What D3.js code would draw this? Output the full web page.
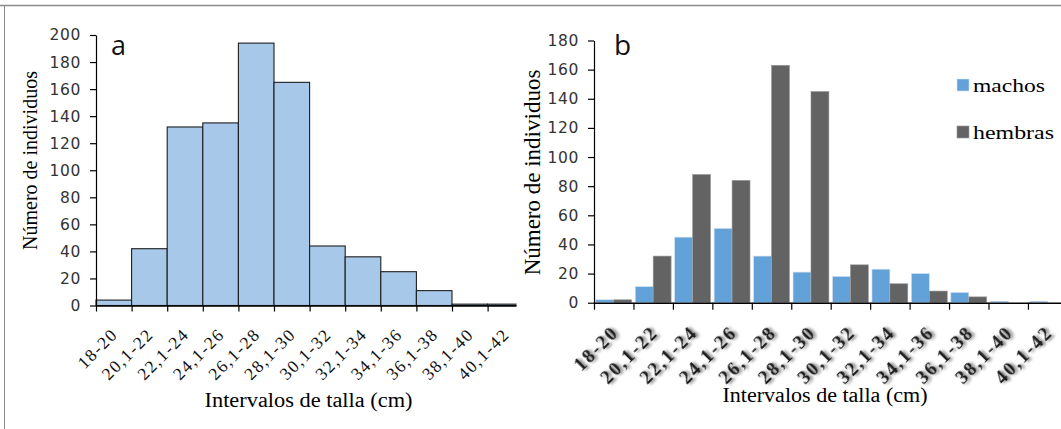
<!DOCTYPE html>
<html>
<head>
<meta charset="utf-8">
<script src="https://cdn.jsdelivr.net/npm/d3@7"></script>
<style>
  html, body { margin: 0; padding: 0; background: #fff; }
  svg { display: block; }
</style>
</head>
<body>
<script>
// ---------------- DATA ----------------
const categories = ["18-20","20,1-22","22,1-24","24,1-26","26,1-28","28,1-30","30,1-32","32,1-34","34,1-36","36,1-38","38,1-40","40,1-42"];
const totalCounts = [4, 42, 132, 135, 194, 165, 44, 36, 25, 11, 1, 1];
const machos  = [2, 11, 45, 51, 32, 21, 18, 23, 20, 7, 1, 1];
const hembras = [2, 32, 88, 84, 163, 145, 26, 13, 8, 4, 0, 0];
const seriesNames = ["machos", "hembras"];
const yTicksA = [0, 20, 40, 60, 80, 100, 120, 140, 160, 180, 200];
const yTicksB = [0, 20, 40, 60, 80, 100, 120, 140, 160, 180];
const panelLabels = ["a", "b"];
const yTitle = "Número de individuos";
const xTitle = "Intervalos de talla (cm)";

// ---------------- SETUP ----------------
const W = 1061, H = 429;
const svg = d3.select("body").append("svg").attr("width", W).attr("height", H);
const defs = svg.append("defs");

const sh = defs.append("filter").attr("id", "shadow")
  .attr("x", "-30%").attr("y", "-30%").attr("width", "160%").attr("height", "160%");
sh.append("feGaussianBlur").attr("in", "SourceAlpha").attr("stdDeviation", 1.4).attr("result", "blur");
sh.append("feOffset").attr("in", "blur").attr("dx", 2).attr("dy", 2).attr("result", "off");
sh.append("feFlood").attr("flood-color", "#000").attr("flood-opacity", 0.55).attr("result", "col");
sh.append("feComposite").attr("in", "col").attr("in2", "off").attr("operator", "in").attr("result", "shad");
const mg = sh.append("feMerge");
mg.append("feMergeNode").attr("in", "shad");
mg.append("feMergeNode").attr("in", "SourceGraphic");

defs.append("clipPath").attr("id", "clipA")
  .append("rect").attr("x", 0).attr("y", 0).attr("width", 516.5).attr("height", H);

// frame
svg.append("line").attr("x1", 0).attr("x2", W).attr("y1", 5.5).attr("y2", 5.5)
  .attr("stroke", "#8a8a8a").attr("stroke-width", 1.6);
svg.append("line").attr("x1", 4.5).attr("x2", 4.5).attr("y1", 5).attr("y2", H)
  .attr("stroke", "#8a8a8a").attr("stroke-width", 1);

const tickFont = "'DejaVu Sans', Verdana, sans-serif";
const serif = "'Liberation Serif', 'Times New Roman', serif";

function styleYAxis(g) {
  g.select(".domain").attr("stroke", "#000").attr("stroke-width", 1.2);
  g.selectAll(".tick line").attr("stroke", "#000").attr("stroke-width", 1.2);
  g.selectAll(".tick text")
    .attr("font-family", tickFont).attr("font-size", 15.5)
    .attr("letter-spacing", "0.6px").attr("fill", "#333");
}

// ---------------- PANEL A ----------------
{
  const x = d3.scaleBand().domain(categories).range([96, 96 + 12 * 35.6]).padding(0);
  const y = d3.scaleLinear().domain([0, 200]).range([305.5, 35]);
  const g = svg.append("g");

  const plot = g.append("g").attr("clip-path", "url(#clipA)");
  plot.selectAll("rect.bar").data(categories).join("rect")
    .attr("class", "bar")
    .attr("x", d => x(d))
    .attr("width", x.bandwidth())
    .attr("y", (d, i) => y(totalCounts[i]))
    .attr("height", (d, i) => y(0) - y(totalCounts[i]))
    .attr("fill", "#a7c8e8")
    .attr("stroke", "#1e1e1e").attr("stroke-width", 1.1);

  const xi = d3.scaleLinear().domain([0, categories.length]).range(x.range());
  const xa = plot.append("g").attr("transform", `translate(0,${y(0)})`)
    .call(d3.axisBottom(xi).tickValues(d3.range(categories.length)).tickFormat("").tickSize(6).tickSizeOuter(0));
  xa.select(".domain").attr("stroke", "#000").attr("stroke-width", 1.5);
  xa.selectAll(".tick line").attr("stroke", "#000").attr("stroke-width", 1.2);

  const ya = g.append("g").attr("transform", `translate(${x.range()[0]},0)`)
    .call(d3.axisLeft(y).tickValues(yTicksA).tickSize(6).tickSizeOuter(0).tickPadding(9));
  styleYAxis(ya);

  g.selectAll("text.xl").data(categories).join("text")
    .attr("class", "xl")
    .attr("transform", d => `translate(${x(d) + x.bandwidth() / 2 + 5},${y(0) + 30}) rotate(-45)`)
    .attr("text-anchor", "end")
    .attr("font-family", serif).attr("font-size", 17.5)
    .attr("letter-spacing", "1.5px")
    .attr("fill", "#111")
    .text(d => d);

  g.append("text").attr("x", 308.5).attr("y", 407)
    .attr("text-anchor", "middle").attr("font-family", serif).attr("font-size", 20)
    .attr("textLength", 208).attr("lengthAdjust", "spacingAndGlyphs")
    .text(xTitle);
  g.append("text").attr("transform", `translate(37,160.5) rotate(-90)`)
    .attr("text-anchor", "middle").attr("font-family", serif).attr("font-size", 20)
    .text(yTitle);
  g.append("text").attr("x", 111).attr("y", 55)
    .attr("font-family", "'Open Sans', sans-serif").attr("font-size", 27).attr("fill", "#111")
    .text(panelLabels[0]);
}

// ---------------- PANEL B ----------------
{
  const x = d3.scaleBand().domain(categories).range([594, 594 + 12 * 39.45]).padding(0);
  const x1 = d3.scaleBand().domain(seriesNames).range([0, x.bandwidth()]).paddingInner(0).paddingOuter(0.1);
  const y = d3.scaleLinear().domain([0, 180]).range([302.7, 40.5]);
  const color = d3.scaleOrdinal().domain(seriesNames).range(["#63a1d9", "#636363"]);
  const seriesData = { machos: machos, hembras: hembras };
  const g = svg.append("g");

  seriesNames.forEach(s => {
    g.selectAll(null).data(categories).join("rect")
      .attr("x", d => x(d) + x1(s))
      .attr("width", x1.bandwidth())
      .attr("y", (d, i) => y(seriesData[s][i]))
      .attr("height", (d, i) => y(0) - y(seriesData[s][i]))
      .attr("fill", color(s))
      .attr("stroke", s === "machos" ? "#cfe0f0" : "#9a9a9a").attr("stroke-width", 0.6);
  });

  const xi = d3.scaleLinear().domain([0, categories.length]).range(x.range());
  const xa = g.append("g").attr("transform", `translate(0,${y(0)})`)
    .call(d3.axisBottom(xi).tickValues(d3.range(categories.length)).tickFormat("").tickSize(7).tickSizeOuter(0));
  xa.select(".domain").attr("stroke", "#000").attr("stroke-width", 1.5);
  xa.selectAll(".tick line").attr("stroke", "#000").attr("stroke-width", 1.2);

  const ya = g.append("g").attr("transform", `translate(${x.range()[0]},0)`)
    .call(d3.axisLeft(y).tickValues(yTicksB).tickSize(6).tickSizeOuter(0).tickPadding(9));
  styleYAxis(ya);

  g.selectAll("text.xl").data(categories).join("text")
    .attr("class", "xl")
    .attr("transform", d => `translate(${x(d) + x.bandwidth() / 2 + 6},${y(0) + 31}) rotate(-45)`)
    .attr("text-anchor", "end")
    .attr("font-family", serif).attr("font-size", 19).attr("font-weight", "bold")
    .attr("letter-spacing", "2px")
    .attr("fill", "#1a1a1a")
    .attr("filter", "url(#shadow)")
    .text(d => d);

  g.append("text").attr("x", 825).attr("y", 402)
    .attr("text-anchor", "middle").attr("font-family", serif).attr("font-size", 20)
    .attr("textLength", 205).attr("lengthAdjust", "spacingAndGlyphs")
    .text(xTitle);
  g.append("text").attr("transform", `translate(540,172.5) rotate(-90)`)
    .attr("text-anchor", "middle").attr("font-family", serif).attr("font-size", 23)
    .text(yTitle);
  g.append("text").attr("x", 614).attr("y", 55)
    .attr("font-family", "'Open Sans', sans-serif").attr("font-size", 28).attr("fill", "#111")
    .text(panelLabels[1]);

  const lg = g.append("g");
  const legendY = d3.scalePoint().domain(seriesNames).range([79, 126]);
  seriesNames.forEach(s => {
    lg.append("rect").attr("x", 957).attr("y", legendY(s)).attr("width", 12).attr("height", 12)
      .attr("fill", color(s)).attr("stroke", s === "machos" ? "#cfe0f0" : "#9a9a9a").attr("stroke-width", 0.6);
    lg.append("text").attr("x", 973).attr("y", legendY(s) + 12.8)
      .attr("font-family", serif).attr("font-size", 19)
      .attr("textLength", s === "machos" ? 72 : 81).attr("lengthAdjust", "spacingAndGlyphs")
      .text(s);
  });
}
</script>
</body>
</html>
